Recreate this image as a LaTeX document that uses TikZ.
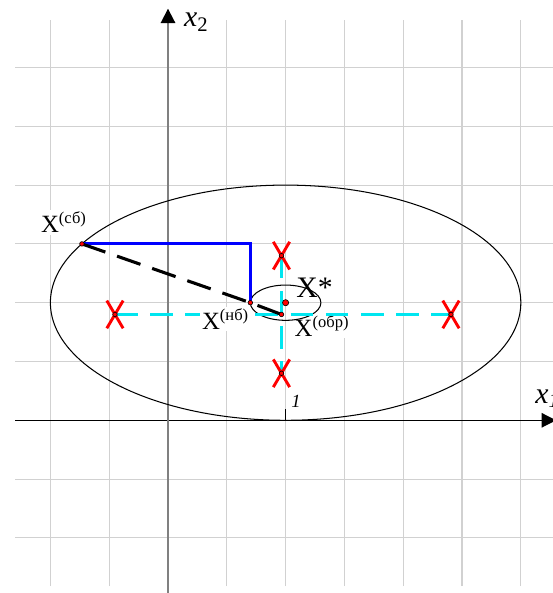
\documentclass[tikz,border=0pt]{standalone}
\usepackage{fontspec}
\setmainfont{Liberation Serif}
\usetikzlibrary{arrows.meta,shapes.misc}
\definecolor{aqua}{RGB}{0,230,240}
\definecolor{markred}{RGB}{255,0,0}

\begin{document}
\begin{tikzpicture}[
    x=2cm, y=2cm,
    >={Triangle[length=7pt,width=7pt]},
    gridline/.style={draw=black!18, line width=0.5pt},
    axis/.style={->, line width=0.6pt},
    trial/.style={cross out, draw=markred, line width=1.4pt, inner sep=0pt, minimum width=6.5pt, minimum height=12pt},
    probe/.style={draw=aqua, line width=1.4pt, dash pattern=on 11pt off 6pt},
    spot/.style={circle, draw=black, fill=markred, line width=0.3pt, inner sep=0pt, minimum size=2.2pt},
    lbl/.style={fill=white, inner sep=0.8pt, anchor=base west, font=\large},
    font=\normalsize
]

\useasboundingbox (-1.4286,-1.4685) rectangle (3.2653,3.574);

\foreach \y in {-1,-0.5,...,3}
    \draw[gridline] (-1.3,\y) -- (3.3,\y);
\foreach \x in {-1,-0.5,...,3}
    \draw[gridline] (\x,-1.41) -- (\x,3.4);

\coordinate (x1a) at (-1.3,0);
\coordinate (x1b) at (3.3,0);
\coordinate (x2a) at (0,-1.5);
\coordinate (x2b) at (0,3.5);
\coordinate (one) at (1,0);
\coordinate (onet) at (1,0.094);
\draw[axis] (x1a) -- (x1b);
\draw[line width=0.9pt, draw=black!50, -{Triangle[length=7pt,width=7pt,color=black]}] (x2a) -- (x2b);

\node[lbl] (obrl) at (1.06,0.714) {X\textsuperscript{(обр)}};
\node[lbl, inner sep=0.3pt, font=\small] (onel) at (1.04,0.113) {\textit{1}};
\draw[line width=0.6pt] (one) -- (onet);

\coordinate (sb) at (-0.732,1.5);
\coordinate (bend) at (0.7,1.5);
\coordinate (nb) at (0.7,1.0);
\coordinate (obr) at (0.965,0.9);
\coordinate (opt) at (1,1);
\coordinate (tl) at (-0.451,0.9);
\coordinate (tr) at (2.406,0.9);
\coordinate (tu) at (0.965,1.4);
\coordinate (td) at (0.965,0.4);

\draw[line width=0.5pt] (opt) ellipse [x radius=2, y radius=1];
\draw[line width=0.5pt] (opt) ellipse [x radius=0.3, y radius=0.15];

\draw[probe] (tl) -- (tr);
\draw[probe] (tu) -- (td);

\draw[blue, line width=1.4pt] (sb) -- (bend) -- (nb);
\draw[line width=1.5pt, dash pattern=on 12pt off 6pt] (sb) -- (nb) -- (obr);

\node[trial] (tlx) at (tl) {};
\node[trial] (trx) at (tr) {};
\node[trial] (tux) at (tu) {};
\node[trial] (tdx) at (td) {};

\node[spot] (sbp) at (sb) {};
\node[spot] (nbp) at (nb) {};
\node[spot] (obrp) at (obr) {};
\node[spot] at (tl) {};
\node[spot] at (tr) {};
\node[spot] at (tu) {};
\node[spot] at (td) {};
\node[spot, minimum size=3pt] (optp) at (opt) {};

\node[lbl] (sbl) at (-1.097,1.593) {X\textsuperscript{(сб)}};
\node[lbl] (nbl) at (0.272,0.771) {X\textsuperscript{(нб)}};
\node[anchor=base west, inner sep=0pt, font=\Large] (optl) at (1.088,1.048) {X*};
\node[lbl, font=\Large] (x2l) at (0.12,3.345) {\textit{x}\textsubscript{2}};
\node[anchor=base west, inner sep=0pt, font=\Large] (x1l) at (3.12,0.145) {\textit{x}\textsubscript{\textit{1}}};

\end{tikzpicture}
\end{document}
